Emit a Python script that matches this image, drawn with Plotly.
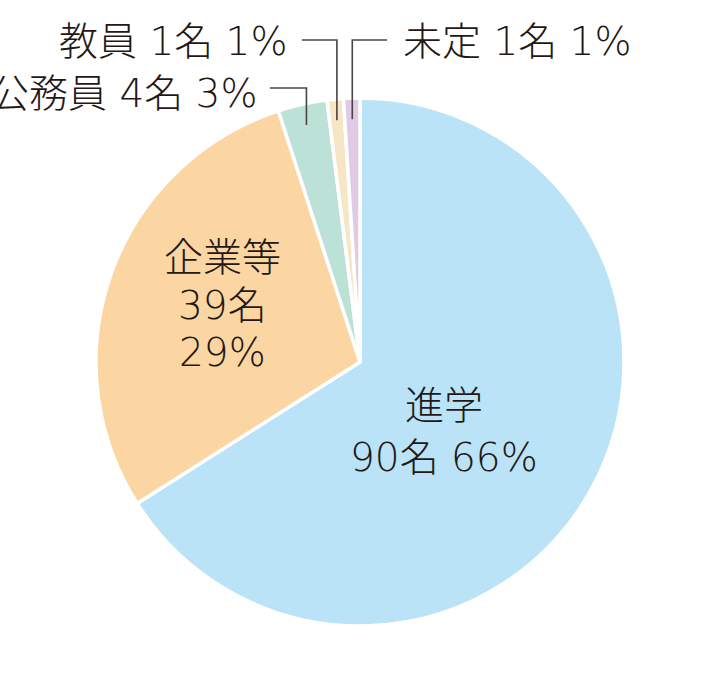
import math
import plotly.graph_objects as go

# 卒業後の進路
labels = ["進学", "企業等", "公務員", "教員", "未定"]
counts = [90, 39, 4, 1, 1]
percents = [66, 29, 3, 1, 1]
colors = ["#bae3f8", "#fbd6a2", "#bce2d8", "#f6e6c5", "#dfcbe5"]

W, H = 720, 678
CX, CY, R = 360, 362, 264
TXT = "#231815"
FONT = "DejaVu Sans, Noto Sans CJK JP"
FS = 39


def px(x):
    return x / W


def py(y):
    return 1 - y / H


def mid_angles(vals):
    tot = sum(vals)
    out, acc = [], 0
    for v in vals:
        out.append((acc + v / 2) / tot * 360)
        acc += v
    return out


fig = go.Figure(go.Pie(
    labels=labels,
    values=percents,
    sort=False,
    direction="clockwise",
    rotation=0,
    marker=dict(colors=colors, line=dict(color="white", width=3.5)),
    textinfo="none",
    hoverinfo="skip",
    showlegend=False,
    domain=dict(x=[px(CX - R), px(CX + R)], y=[py(CY + R), py(CY - R)]),
))

mids = mid_angles(percents)
annots = []


def add_text(x, y, s, anchor="center"):
    annots.append(dict(x=px(x), y=py(y), xref="paper", yref="paper",
                       text=s, showarrow=False,
                       xanchor=anchor, yanchor="middle",
                       font=dict(family=FONT, size=FS, color=TXT, weight=200)))


# inside labels
add_text(444, 405, labels[0])
add_text(444, 457, f"{counts[0]}名 {percents[0]}%")
add_text(222, 258, labels[1])
add_text(222, 305, f"{counts[1]}名")
add_text(222, 352, f"{percents[1]}%")

# outside labels with leader lines (公務員, 教員, 未定)
elbow_y = {2: 88, 3: 40, 4: 40}
end_x = {2: 270, 3: 302, 4: 387}
text_pos = {2: (259, 93, "right"), 3: (289, 42, "right"), 4: (401, 42, "left")}

shapes = []
for i in (2, 3, 4):
    a = math.radians(mids[i])
    x0 = CX + 0.93 * R * math.sin(a)
    y0 = CY - 0.92 * R * math.cos(a)
    path = (f"M {px(x0)},{py(y0)} L {px(x0)},{py(elbow_y[i])} "
            f"L {px(end_x[i])},{py(elbow_y[i])}")
    shapes.append(dict(type="path", xref="paper", yref="paper", path=path,
                       line=dict(color="#4a4443", width=1.6)))
    tx, ty, anc = text_pos[i]
    add_text(tx, ty, f"{labels[i]} {counts[i]}名 {percents[i]}%", anc)

fig.update_layout(
    width=W, height=H,
    margin=dict(l=0, r=0, t=0, b=0),
    paper_bgcolor="white",
    plot_bgcolor="white",
    annotations=annots,
    shapes=shapes,
)

# ページ余白(body margin)を消して図を左上に合わせる
fig.write_html("out.html", config={"displayModeBar": False},
               post_script="document.body.style.margin='0';")
